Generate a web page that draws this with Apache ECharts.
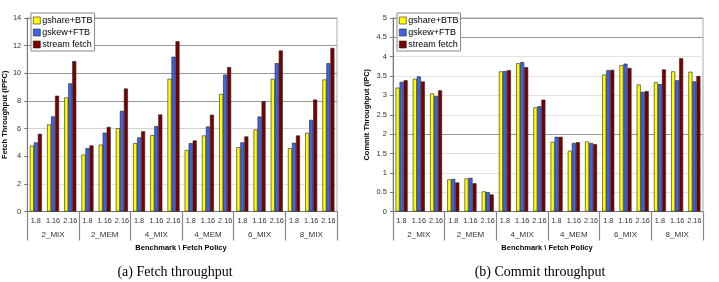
<!DOCTYPE html>
<html>
<head>
<meta charset="utf-8">
<script src="https://cdn.jsdelivr.net/npm/echarts@6/dist/echarts.min.js"></script>
<style>
  html, body { margin: 0; padding: 0; background: #fff; }
  #chart { width: 719px; height: 282px; }
</style>
</head>
<body>
<div id="chart"></div>
<script>
// categories
const policies = ['1.8', '1.16', '2.16', '1.8', '1.16', '2.16', '1.8', '1.16', '2.16',
                  '1.8', '1.16', '2.16', '1.8', '1.16', '2.16', '1.8', '1.16', '2.16'];
const benchmarks = ['2_MIX', '2_MEM', '4_MIX', '4_MEM', '6_MIX', '8_MIX'];
const seriesNames = ['gshare+BTB', 'gskew+FTB', 'stream fetch'];

// (a) fetch throughput (IPFC)
const fetchBTB    = [4.77, 6.3, 8.25, 4.12, 4.84, 6.03, 4.94, 5.52, 9.6, 4.45, 5.5, 8.5, 4.65, 5.93, 9.6, 4.58, 5.69, 9.55];
const fetchFTB    = [5.0, 6.88, 9.27, 4.58, 5.7, 7.28, 5.36, 6.18, 11.2, 4.94, 6.15, 9.9, 5.0, 6.87, 10.73, 4.97, 6.63, 10.73];
const fetchStream = [5.62, 8.38, 10.88, 4.78, 6.12, 8.9, 5.8, 7.02, 12.32, 5.14, 7.0, 10.45, 5.43, 7.98, 11.65, 5.5, 8.1, 11.84];

// (b) commit throughput (IPC)
const commitBTB    = [3.2, 3.43, 3.05, 0.83, 0.855, 0.52, 3.62, 3.83, 2.69, 1.8, 1.57, 1.81, 3.54, 3.78, 3.28, 3.34, 3.62, 3.61];
const commitFTB    = [3.35, 3.49, 2.98, 0.84, 0.87, 0.5, 3.63, 3.86, 2.72, 1.93, 1.77, 1.77, 3.65, 3.82, 3.09, 3.29, 3.39, 3.36];
const commitStream = [3.39, 3.36, 3.13, 0.75, 0.73, 0.44, 3.65, 3.73, 2.89, 1.93, 1.79, 1.74, 3.66, 3.71, 3.11, 3.67, 3.96, 3.5];

const colors = ['#ffff00', '#3f63e6', '#7a0000'];
const font = 'Liberation Sans, Arial, sans-serif';

const chart = echarts.init(document.getElementById('chart'));

function innerAxis(grid) {
  return {
    type: 'category', gridIndex: grid, data: policies,
    axisLine: { lineStyle: { color: '#777', width: 1 } },
    axisTick: { show: false },
    axisLabel: { interval: 0, fontSize: 7.3, color: '#333', fontFamily: font, margin: 6, hideOverlap: false }
  };
}
function groupAxis(grid) {
  return {
    type: 'category', gridIndex: grid, data: benchmarks, position: 'bottom',
    axisLine: { show: false },
    axisTick: { show: true, length: 29, interval: 0, lineStyle: { color: '#888', width: 1.2 } },
    axisLabel: { interval: 0, fontSize: 8, color: '#333', fontFamily: font, margin: 19 }
  };
}
function bars(name, data, i, axis) {
  return {
    name: name, type: 'bar', xAxisIndex: axis, yAxisIndex: axis / 2,
    data: data, barWidth: 4, barGap: '0%',
    itemStyle: { color: colors[i], borderColor: '#222', borderWidth: 0.6 }
  };
}
function legend(left) {
  return {
    left: left, top: 13, orient: 'vertical', data: seriesNames,
    icon: 'rect', itemWidth: 7, itemHeight: 7, itemGap: 3,
    backgroundColor: '#fff', borderColor: '#888', borderWidth: 1, padding: [3, 2, 2, 2],
    textStyle: { fontSize: 9, color: '#000', fontFamily: font, padding: [0, 0, 0, -3] },
    itemStyle: { borderColor: '#222', borderWidth: 0.6 }
  };
}

const light = '#e2e2e2', dark = '#9a9a9a';

const option = {
  animation: false,
  grid: [
    { left: 26, right: 382, top: 18, bottom: 70.5, show: true, borderColor: '#aaa', borderWidth: 1 },
    { left: 393, right: 16, top: 18, bottom: 70.5, show: true, borderColor: '#aaa', borderWidth: 1 }
  ],
  legend: [legend(31), legend(397)],
  xAxis: [innerAxis(0), groupAxis(0), innerAxis(1), groupAxis(1)],
  yAxis: [
    {
      type: 'value', gridIndex: 0, min: 0, max: 14, interval: 2,
      name: 'Fetch Throughput (IPFC)', nameLocation: 'middle', nameGap: 17,
      nameTextStyle: { fontSize: 7.5, fontWeight: 'bold', color: '#000', fontFamily: font },
      axisLine: { show: true, lineStyle: { color: '#777' } },
      axisTick: { show: true, length: 3, lineStyle: { color: '#777' } },
      axisLabel: { fontSize: 7.5, color: '#333', fontFamily: font, margin: 6 },
      splitLine: { lineStyle: { color: [dark, light, light, '#d4d4d4', dark, dark, dark, dark] } }
    },
    {
      type: 'value', gridIndex: 1, min: 0, max: 5, interval: 0.5,
      name: 'Commit Throughput (IPC)', nameLocation: 'middle', nameGap: 22,
      nameTextStyle: { fontSize: 7.5, fontWeight: 'bold', color: '#000', fontFamily: font },
      axisLine: { show: true, lineStyle: { color: '#777' } },
      axisTick: { show: true, length: 3, lineStyle: { color: '#777' } },
      axisLabel: { fontSize: 7.5, color: '#333', fontFamily: font, margin: 6 },
      splitLine: { lineStyle: { color: [dark, light, light, light, dark, light, light, light, light, dark, dark] } }
    }
  ],
  series: [
    bars(seriesNames[0], fetchBTB, 0, 0),
    bars(seriesNames[1], fetchFTB, 1, 0),
    bars(seriesNames[2], fetchStream, 2, 0),
    bars(seriesNames[0], commitBTB, 0, 2),
    bars(seriesNames[1], commitFTB, 1, 2),
    bars(seriesNames[2], commitStream, 2, 2)
  ],
  graphic: [
    { type: 'text', x: 181, y: 248, style: { text: 'Benchmark \\ Fetch Policy', font: 'bold 7.5px ' + font, fill: '#000', textAlign: 'center', textVerticalAlign: 'middle' } },
    { type: 'text', x: 547, y: 248, style: { text: 'Benchmark \\ Fetch Policy', font: 'bold 7.5px ' + font, fill: '#000', textAlign: 'center', textVerticalAlign: 'middle' } },
    { type: 'text', x: 175, y: 272, style: { text: '(a) Fetch throughput', font: '14px Liberation Serif, Times New Roman, serif', fill: '#000', textAlign: 'center', textVerticalAlign: 'middle' } },
    { type: 'text', x: 540, y: 272, style: { text: '(b) Commit throughput', font: '14px Liberation Serif, Times New Roman, serif', fill: '#000', textAlign: 'center', textVerticalAlign: 'middle' } }
  ]
};

chart.setOption(option);
</script>
</body>
</html>
